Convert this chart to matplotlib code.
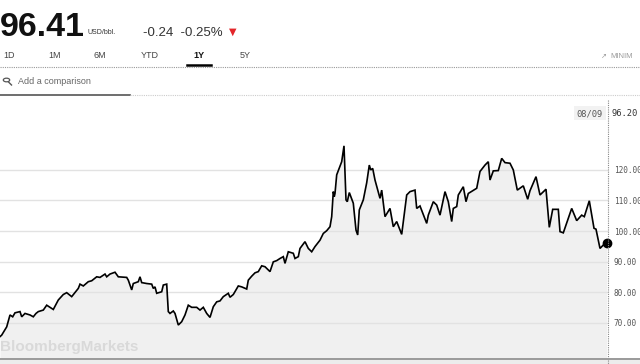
import matplotlib
matplotlib.use("Agg")
import matplotlib.pyplot as plt
from matplotlib.lines import Line2D
from matplotlib.patches import Circle, Rectangle

# price track over the year, position along the chart (0..607) and USD/bbl
t = [0, 1.7, 6.7, 10, 12.7, 15, 20, 21.7, 25, 30, 33.3, 36, 38.3, 43.3, 46.7,
     53.3, 58.3, 63.3, 66.7, 71.7, 78.3, 80, 83.3, 88.3, 91.7, 96.7, 100, 105,
     106.7, 110, 115, 118.3, 126.7, 128.3, 131.7, 133.3, 138.3, 140, 141.7,
     146.7, 151.7, 153.3, 155, 156.7, 161.7, 163.3, 166.7, 168.3, 170, 173.3,
     175, 178.3, 181.7, 185, 188.3, 191.7, 196.7, 200, 203.3, 206.7, 210, 213.3,
     216.7, 220, 223.3, 228.3, 230, 233.3, 238.3, 241.7, 246.7, 248.3, 251.7,
     255, 258.3, 261.7, 265, 270, 273.3, 276.7, 280, 283.3, 285, 288.3, 293.3,
     295, 298.3, 300, 305, 308.3, 311.7, 315, 320,
     323.3, 326.7, 330, 331.7, 333.3, 334.3, 335, 336.7, 341.7, 344, 346, 347.3,
     349.3, 353.3, 356, 357.7, 359.3, 363.3, 366.7, 369.3, 370.7, 372.7, 375,
     380, 381.7, 385, 390, 393.3, 396.7, 401.7, 406.7, 410, 415, 416.7, 420,
     426.7, 428.3, 433.3, 436.7, 440, 445, 448.3, 451.7, 453.3, 456.7, 458.3,
     463.3, 466, 468.3, 476.7, 480, 485, 488.3, 490, 493.3, 498.3, 501.7, 505,
     510, 513.3, 517.3, 523.3, 527.7, 530, 536, 540, 546, 549.3, 552.7, 558.3,
     560, 563.3, 571.7, 576.7, 581.7, 584.3, 589.3, 594, 596, 600, 603.3, 606.7]
price = [65.4, 65.9, 68.6, 72.5, 71.9, 73.2, 73.6, 71.9, 73, 72.5, 71.9, 73,
         73.6, 74.1, 75.7, 74.3, 77.4, 79.2, 79.8, 78.5, 81.2, 82.6, 82, 83.4,
         83.7, 85, 84.8, 85.9, 85, 85.9, 86.5, 85, 84.8, 83.9, 80.7, 82.8, 83.4,
         85, 83.1, 82.8, 82.6, 81.2, 81.7, 79.6, 80.1, 82.3, 82.6, 73.6, 73,
         73.8, 73, 69.2, 70.3, 72.5, 75.7, 75, 75, 74.1, 75, 73, 71.7, 75.2,
         76.8, 77.1, 78.5, 79.6, 78.3, 79.2, 82, 81.7, 81, 83.9, 85.2, 86.3,
         86.7, 88.6, 88.3, 86.7, 89.9, 90.3, 91, 91.6, 89.4, 93.2, 92.7, 91,
         91.6, 94.3, 96.5, 94.3, 93.2, 94.9, 97,
         99.2, 100.1, 101.4, 104.7, 112.9, 111.3, 112.3, 118.4, 122.7, 127.9,
         110.2, 109.6, 112.6, 109.1, 100.3, 98.7, 106.9, 110.2, 115.8, 121.6,
         120, 120.5, 116.7, 110.7, 113.4, 104.7, 107.4, 101.4, 103.1, 98.9,
         111.8, 112.9, 113.4, 107.4, 108.2, 102.5, 105.2, 109.6, 108.5, 105.2,
         112.9, 109.6, 103.1, 107.4, 108, 111.8, 114.5, 109.6, 112.3, 114,
         119.5, 121.6, 122.7, 116.7, 119.7, 119.8, 123.8, 122.4, 122.2, 120,
         113.4, 114.8, 110.4, 113.2, 117.8, 111.8, 113.7, 101.2, 107.1, 107.1,
         99.8, 99.4, 107.4, 103.4, 105.2, 104.7, 109.9, 100.9, 100.6, 94.3,
         95.4, 96.2]
grid_levels = [70, 80, 90, 100, 110, 120]
tabs = ["1D", "1M", "6M", "YTD", "1Y", "5Y"]
tab_x = [3, 48, 94, 141, 193, 240]

W, H = 640, 364
fig = plt.figure(figsize=(6.4, 3.64), dpi=100)
fig.patch.set_facecolor("white")


def fx(x):
    return x / W


def fy(y):
    return 1 - y / H


# header
fig.text(fx(0), fy(36), "96.41", fontsize=24.5, fontweight="bold",
         family="Liberation Sans", color="#111111", va="baseline")
fig.text(fx(88), fy(34), "USD/bbl.", fontsize=5, family="Liberation Sans",
         color="#333333", va="baseline")
fig.text(fx(143), fy(36), "-0.24  -0.25%", fontsize=9.5, family="Liberation Sans",
         color="#333333", va="baseline")
fig.text(fx(229), fy(35), "\u25bc", fontsize=7, color="#e3262a", va="baseline",
         family="DejaVu Sans")

for lab, x in zip(tabs, tab_x):
    fig.text(fx(x), fy(58), lab, fontsize=6.5, family="Liberation Sans",
             color="#111111" if lab == "1Y" else "#444444",
             fontweight="bold" if lab == "1Y" else "normal", va="baseline")
fig.text(fx(610), fy(58), "MINIM", fontsize=5.5, family="Liberation Sans",
         color="#999999", va="baseline")
fig.text(fx(601), fy(58), "\u2197", fontsize=5, color="#999999", va="baseline",
         family="DejaVu Sans")

fig.add_artist(Line2D([fx(187), fx(211)], [fy(65), fy(65)], color="black", lw=1.8))
fig.add_artist(Line2D([0, 1], [fy(67), fy(67)], color="#999999", lw=0.8, ls=(0, (1, 1))))

# magnifier icon drawn as a shape
fig.add_artist(Circle((fx(6.5), fy(80)), 3.2 / W, transform=fig.transFigure,
                      fill=False, ec="#555555", lw=0.9))
fig.add_artist(Line2D([fx(8.8), fx(11.5)], [fy(82.3), fy(85)], color="#555555", lw=1.0))
fig.text(fx(18), fy(84), "Add a comparison", fontsize=6.5, family="Liberation Sans",
         color="#666666", va="baseline")
fig.add_artist(Line2D([0, fx(130)], [fy(95), fy(95)], color="#555555", lw=1.2))
fig.add_artist(Line2D([fx(130), 1], [fy(95), fy(95)], color="#cccccc", lw=0.8, ls=(0, (1, 1))))

# chart area
ax = fig.add_axes([0, fy(358), fx(608), (358 - 97) / H])
ax.set_xlim(0, 608)
ax.set_ylim(58.4, 143.9)
for s in ax.spines.values():
    s.set_visible(False)
ax.set_xticks([])
ax.yaxis.tick_right()
ax.set_yticks(grid_levels)
ax.set_yticklabels([f"{v:.2f}" for v in grid_levels], family="DejaVu Sans Mono",
                   fontsize=5.6, color="#555555")
ax.tick_params(axis="y", length=0, pad=4)
for v in grid_levels:
    ax.axhline(v, color="#e2e2e2", lw=1.0, zorder=1)

ax.fill_between(t, price, 58.4, color="#f0f0f0", zorder=0, lw=0)
ax.plot(t, price, color="black", lw=1.2, zorder=3, solid_joinstyle="miter")
ax.plot(t[-1], price[-1], "o", color="black", ms=6, zorder=4, clip_on=False)

ax.text(0.0, 60.8, "BloombergMarkets", fontsize=11, fontweight="bold",
        family="Liberation Sans", color="#d9d9d9", va="baseline", zorder=2)

# vertical marker line and readout
fig.add_artist(Line2D([fx(608), fx(608)], [fy(100), fy(364)], color="#888888",
                      lw=0.8, ls=(0, (1, 1))))
fig.add_artist(Rectangle((fx(574), fy(120)), fx(32), 14 / H, color="#f2f2f2", lw=0))
fig.text(fx(576), fy(116.5), "08/09", fontsize=6.3, family="DejaVu Sans Mono",
         color="#555555", va="baseline")
fig.text(fx(611), fy(116.5), "96.20", fontsize=6.3, family="DejaVu Sans Mono",
         color="#333333", va="baseline")

# bottom axis strip
fig.add_artist(Rectangle((0, 0), 1, 5 / H, color="#ececec", lw=0))
fig.add_artist(Line2D([0, 1], [fy(358.5), fy(358.5)], color="#9a9a9a", lw=1.4))

fig.savefig("out.png", dpi=100, facecolor="white")
